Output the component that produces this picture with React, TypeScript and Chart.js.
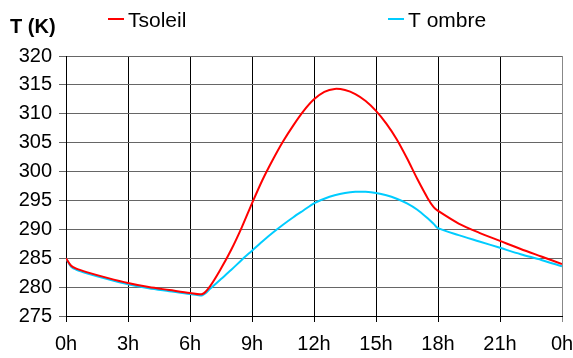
import React, { useEffect, useRef } from "react";
import { Chart, registerables } from "chart.js";

Chart.register(...registerables);

const hours = [0, 0.25, 0.5, 1, 2, 3, 4, 5, 6, 6.6, 7, 7.5, 8, 8.5, 9, 9.5, 10, 10.5, 11, 11.5, 12, 12.5, 13, 13.5, 14, 14.5, 15, 15.5, 16, 16.5, 17, 17.5, 17.8, 18, 19, 20, 21, 22, 23, 24];
const tSoleil = [285, 283.7, 283.2, 282.6, 281.6, 280.7, 280.0, 279.5, 279.0, 278.8, 280.3, 283.2, 286.5, 290.3, 294.5, 298.5, 302, 305.2, 308, 310.5, 312.5, 313.8, 314.3, 314.1, 313.4, 312.2, 310.5, 308.3, 305.6, 302.3, 298.7, 295.4, 293.8, 293.2, 291.0, 289.4, 288.0, 286.6, 285.3, 284.0];
const tOmbre = [285, 283.5, 283.0, 282.4, 281.4, 280.5, 279.8, 279.3, 278.8, 278.6, 279.8, 281.4, 283.0, 284.7, 286.3, 287.9, 289.4, 290.8, 292.1, 293.3, 294.5, 295.3, 295.9, 296.3, 296.5, 296.5, 296.3, 295.9, 295.3, 294.5, 293.4, 291.9, 290.9, 290.2, 289.0, 287.9, 286.8, 285.7, 284.7, 283.6];
const seriesNames = ["Tsoleil", "T ombre"];
const seriesColors = ["#ff0000", "#00ccff"];
const yTitle = "T (K)";

const FONT = "'Liberation Sans', Arial, sans-serif";

const overlayPlugin = {
  id: "overlay",
  afterDraw(chart: any) {
    const ctx = chart.ctx;
    ctx.save();
    ctx.textBaseline = "alphabetic";
    ctx.textAlign = "left";
    ctx.fillStyle = "#000";
    ctx.font = `bold 20px ${FONT}`;
    ctx.fillText(yTitle, 10, 33);
    ctx.font = `21px ${FONT}`;
    const items = [
      { x: 108, name: seriesNames[0], color: seriesColors[0] },
      { x: 388, name: seriesNames[1], color: seriesColors[1] },
    ];
    for (const it of items) {
      ctx.strokeStyle = it.color;
      ctx.lineWidth = 2;
      ctx.beginPath();
      ctx.moveTo(it.x, 19);
      ctx.lineTo(it.x + 16, 19);
      ctx.stroke();
      ctx.fillStyle = "#000";
      ctx.fillText(it.name, it.x + 20, 27);
    }
    ctx.restore();
  },
};

export default function App() {
  const ref = useRef<HTMLCanvasElement>(null);
  useEffect(() => {
    if (!ref.current) return;
    const chart = new Chart(ref.current, {
      type: "line",
      data: {
        datasets: [
          {
            label: seriesNames[0],
            data: hours.map((h, i) => ({ x: h, y: tSoleil[i] })),
            borderColor: seriesColors[0],
            borderWidth: 2,
            pointRadius: 0,
            tension: 0.3,
          },
          {
            label: seriesNames[1],
            data: hours.map((h, i) => ({ x: h, y: tOmbre[i] })),
            borderColor: seriesColors[1],
            borderWidth: 2,
            pointRadius: 0,
            tension: 0.3,
          },
        ],
      },
      options: {
        animation: false,
        responsive: false,
        devicePixelRatio: 1,
        layout: { padding: { top: 56, right: 0, left: 0, bottom: 0 } },
        plugins: { legend: { display: false }, tooltip: { enabled: false } },
        scales: {
          x: {
            type: "linear",
            min: 0,
            max: 24,
            afterFit: (s: any) => { s.height = 42; s.paddingRight = 11; },
            ticks: {
              stepSize: 3,
              autoSkip: false,
              maxRotation: 0,
              padding: 10,
              color: "#000",
              font: { family: FONT, size: 20 },
              callback: (v: any) => `${Number(v) % 24}h`,
            },
            grid: {
              color: (c: any) => (c.tick && c.tick.value === 24 ? "#888888" : "#000000"),
              lineWidth: 1,
              tickLength: 6,
            },
            border: { color: "#000", width: 1 },
          },
          y: {
            min: 275,
            max: 320,
            afterFit: (s: any) => { s.width = 66; },
            ticks: {
              stepSize: 5,
              padding: 7,
              color: "#000",
              font: { family: FONT, size: 20 },
            },
            grid: { color: "#666666", lineWidth: 1, tickLength: 7 },
            border: { color: "#000", width: 1 },
          },
        },
      },
      plugins: [overlayPlugin],
    } as any);
    return () => chart.destroy();
  }, []);
  return (
    <div style={{ position: "fixed", left: 0, top: 0, width: 573, height: 358, background: "#fff" }}>
      <canvas ref={ref} width={573} height={358} style={{ width: 573, height: 358, display: "block" }} />
    </div>
  );
}
